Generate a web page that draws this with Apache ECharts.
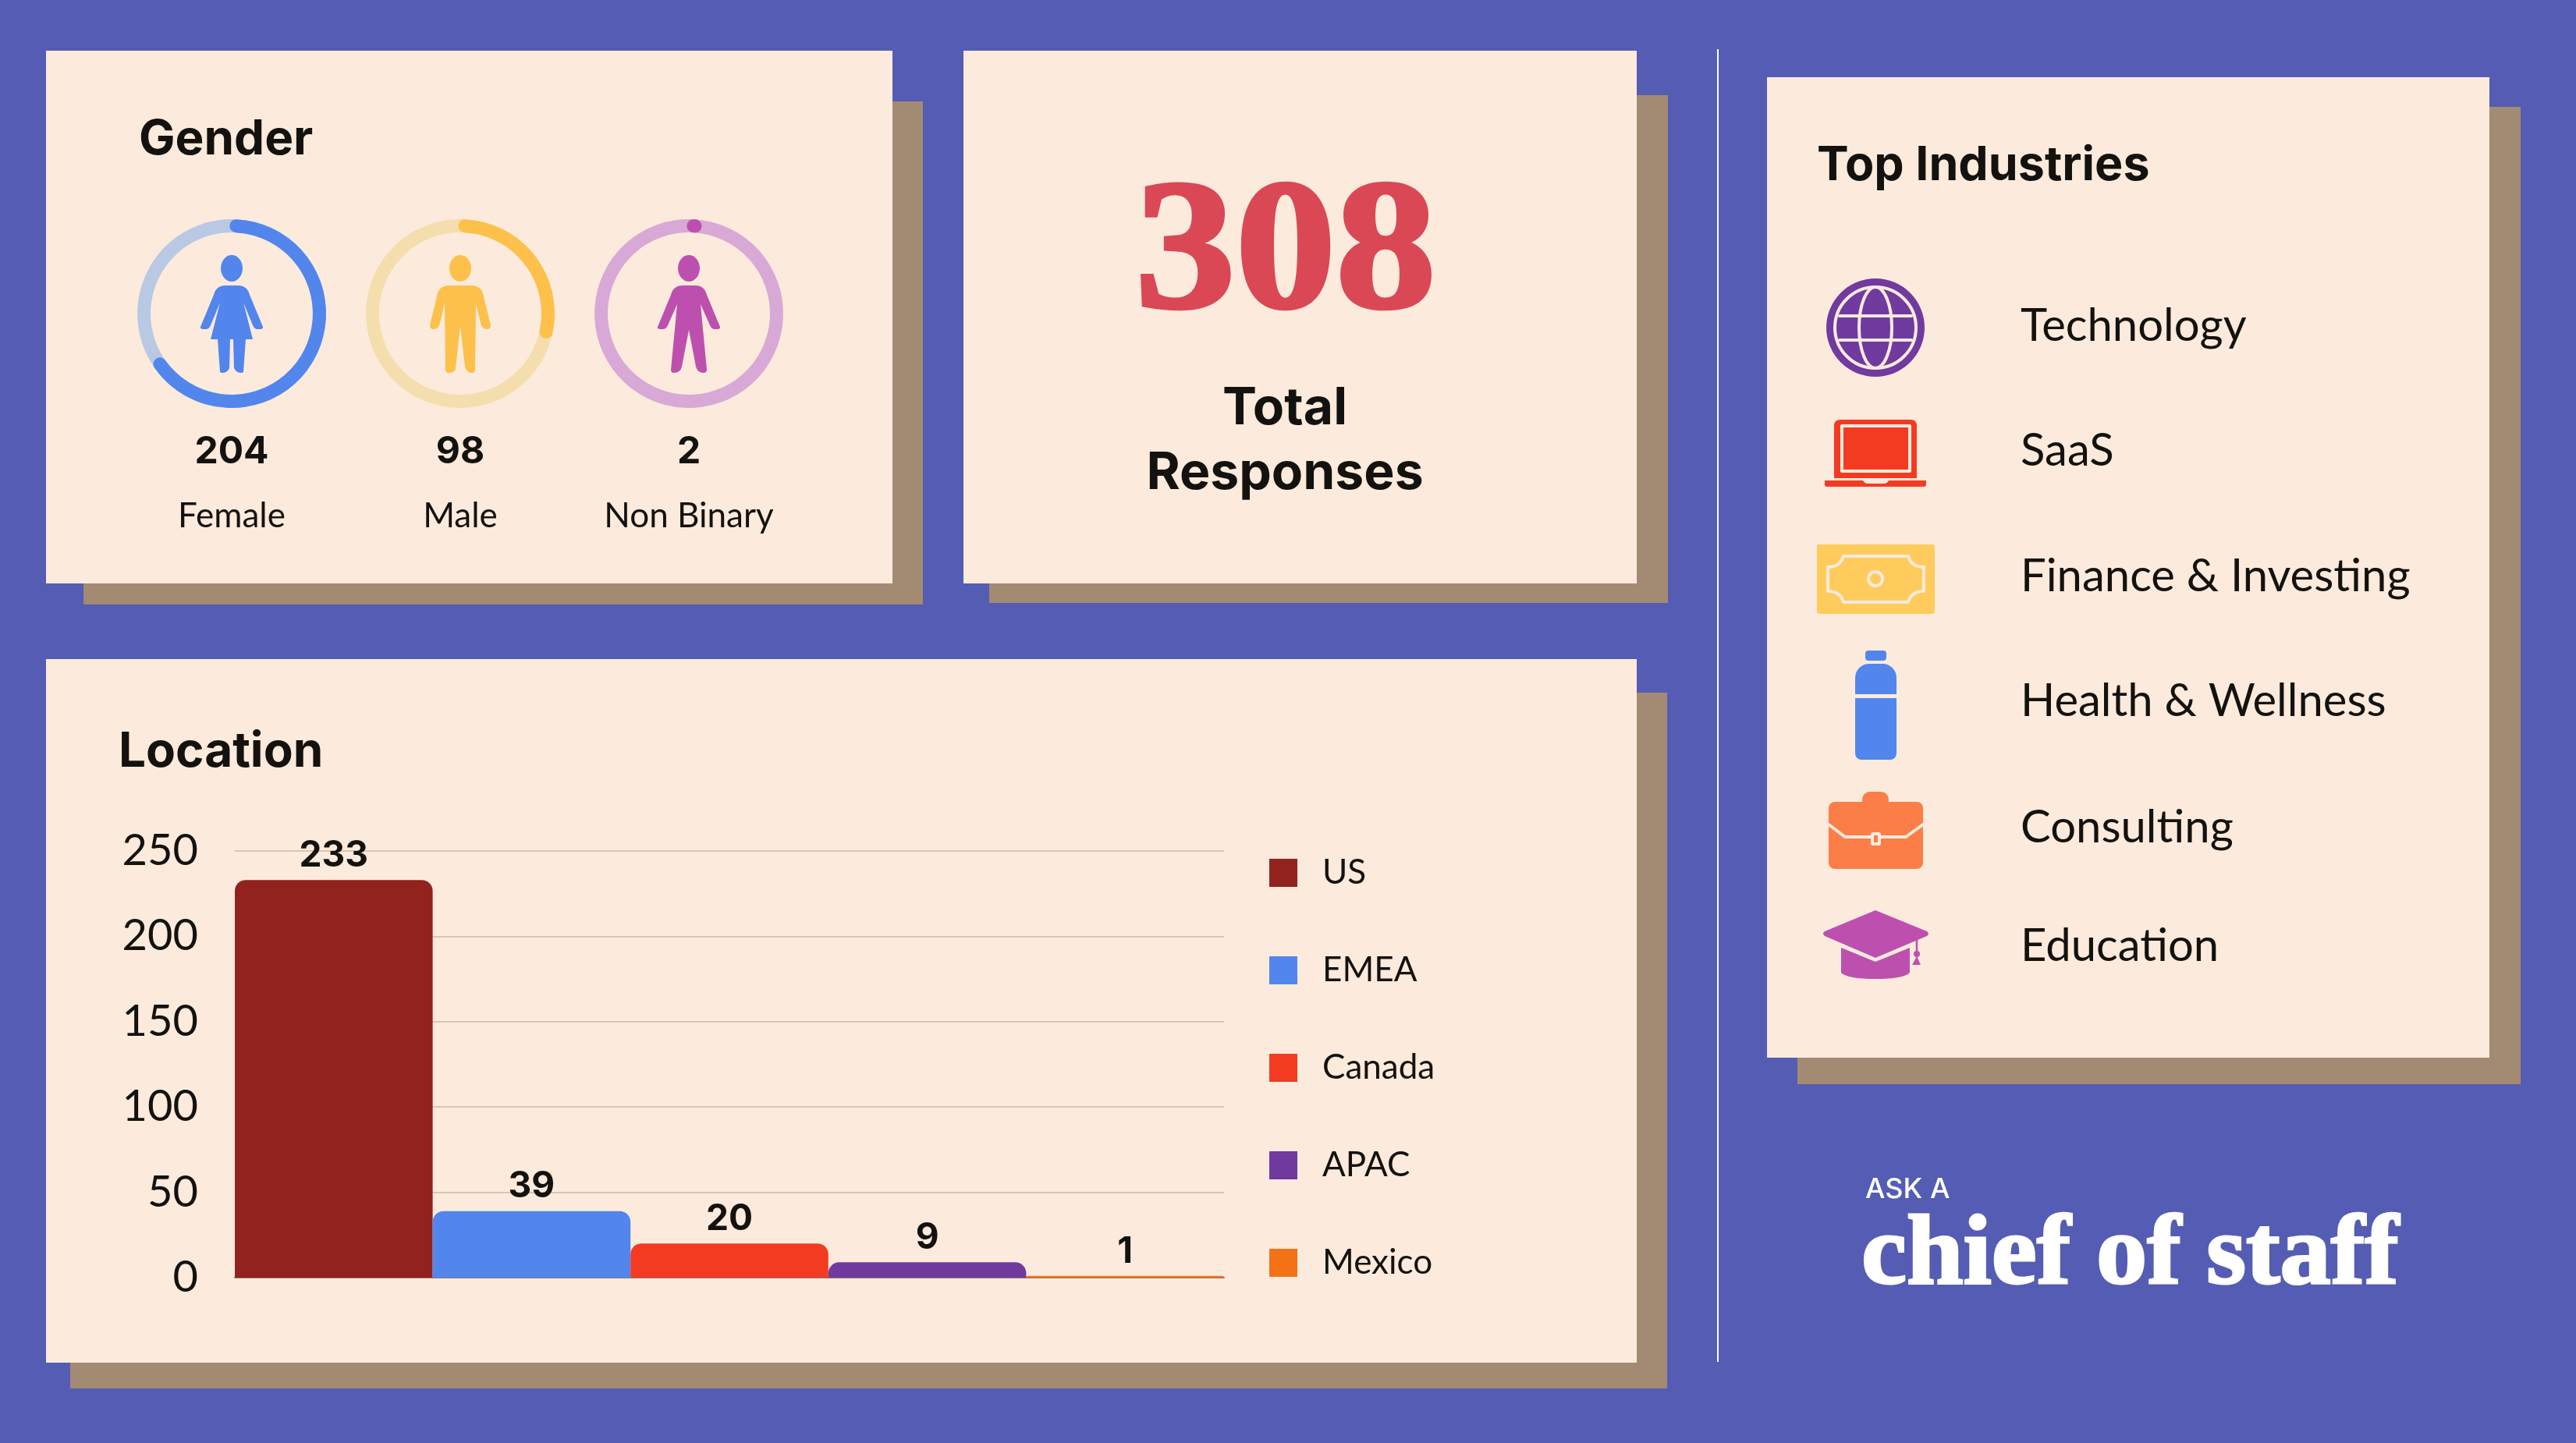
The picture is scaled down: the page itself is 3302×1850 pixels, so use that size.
<!DOCTYPE html>
<html>
<head>
<meta charset="utf-8">
<title>Survey responses</title>
<script src="https://cdn.jsdelivr.net/npm/echarts@6/dist/echarts.min.js"></script>
<style>
  html, body { margin: 0; padding: 0; background: #555cb3; }
  #main { width: 3302px; height: 1850px; }
</style>
</head>
<body>
<div id="main"></div>
<script>
// data
var locations = ['US', 'EMEA', 'Canada', 'APAC', 'Mexico'];
var locationCounts = [233, 39, 20, 9, 1];
var locationColors = ['#92221d', '#5286ed', '#f33b22', '#703a9f', '#f47216'];
var genderLabels = ['Female', 'Male', 'Non Binary'];
var genderCounts = [204, 98, 2];
var genderRingPct = [64.4, 27.5, 0.3];   // how far each ring is actually filled
var genderColors = ['#5286ed', '#fdc04a', '#bd50ae'];
var genderTracks = ['#b9c9e3', '#f4deae', '#d8a9d6'];
var industries = ['Technology', 'SaaS', 'Finance & Investing', 'Health & Wellness', 'Consulting', 'Education'];
var totalResponses = 308;

var INK = '#14120f', CREAM = '#fcebdc', SHADOW = '#a38a73';
var HEAD = 'Inter', BODY = 'Lato';
var ringX = [297, 590, 883], ringY = 402;
var industryY = [418, 578, 739, 899, 1061, 1213];

var myChart = echarts.init(document.getElementById('main'), null, { renderer: 'canvas' });

function panel(x, y, w, h, sx, sy, sw, sh) {
    return [
        { type: 'rect', z: -20, shape: { x: sx, y: sy, width: sw, height: sh }, style: { fill: SHADOW } },
        { type: 'rect', z: -10, shape: { x: x, y: y, width: w, height: h }, style: { fill: CREAM } }
    ];
}
function txt(s, x, y, size, weight, family, align, fill) {
    return {
        type: 'text', z: 5,
        style: {
            text: s, x: x, y: y, fill: fill || INK, align: align || 'left', verticalAlign: 'middle',
            font: weight + ' ' + size + 'px "' + family + '"'
        }
    };
}
// graphic has no plain path type, so each svg path is registered as its own shape
var shapeCount = 0;
function pathType(d) {
    var name = 'iconPath' + (shapeCount++);
    echarts.graphic.registerShape(name, echarts.graphic.extendPath(d));
    return name;
}
function icon(d, fill) {
    return { type: pathType(d), z: 5, style: { fill: fill } };
}
function line(d, stroke, w) {
    return { type: pathType(d), z: 6, style: { fill: 'none', stroke: stroke, lineWidth: w, lineCap: 'round', lineJoin: 'round' } };
}
function at(x, y, el) {
    el.x = x; el.y = y;
    return el;
}

var graphics = [].concat(
    panel(59, 65, 1085, 683, 107, 130, 1076, 645),
    panel(1235, 65, 863, 683, 1268, 122, 870, 651),
    panel(59, 845, 2039, 902, 90, 888, 2047, 892),
    panel(2265, 99, 926, 1257, 2304, 137, 927, 1253)
);
graphics.push({ type: 'rect', z: -5, shape: { x: 2201, y: 63, width: 2, height: 1683 }, style: { fill: '#ffffff' } });

// headings
graphics.push(txt('Gender', 178, 179, 62, 700, HEAD));
graphics.push(txt('Location', 152, 964, 62, 700, HEAD));
graphics.push(txt('Top Industries', 2329, 213, 61, 700, HEAD));
graphics.push(txt('Total', 1647, 524, 66, 700, HEAD, 'center'));
graphics.push(txt('Responses', 1647, 607, 66, 700, HEAD, 'center'));

// big number, thickened serif
var bigNum = txt(String(totalResponses), 0, 0, 238, 700, 'Liberation Serif', 'center', '#da4856');
bigNum.x = 1648; bigNum.y = 332; bigNum.scaleX = 1.08;
bigNum.style.stroke = '#da4856'; bigNum.style.lineWidth = 5;
graphics.push(bigNum);

// logo
graphics.push(txt('ASK A', 2391, 1525, 36, 500, HEAD, 'left', '#ffffff'));
var logo = txt('chief of staff', 0, 0, 128, 700, 'Liberation Serif', 'left', '#ffffff');
logo.x = 2386; logo.y = 1612; logo.scaleX = 1.02;
logo.style.stroke = '#ffffff'; logo.style.lineWidth = 3;
graphics.push(logo);

// gender figures, drawn around the ring centre
var personPaths = [
    'M-8 -36L8 -36Q20 -36 23 -24L40 17Q41 20 36 20L33 20Q29 20 27 15L15 -14L27 33L18 33L15 75Q14 76 12 76Q6 76 3 70L2 33L-2 33L-3 70Q-6 76 -12 76Q-14 76 -15 75L-18 33L-27 33L-15 -14L-27 15Q-29 20 -33 20L-36 20Q-41 20 -40 17L-23 -24Q-20 -36 -8 -36Z',
    'M-14 -36L14 -36Q28 -36 30 -22L39 15Q39 20 34 20Q28 20 26 12L20 -13L19 72Q19 76 15 76Q8 76 6 68L0 16L-6 70Q-7 76 -15 76Q-19 76 -19 72L-20 -13L-26 12Q-28 20 -34 20Q-39 20 -39 15L-30 -22Q-28 -36 -14 -36Z',
    'M-8 -36L8 -36Q20 -36 23 -24L40 17Q41 20 36 20L33 20Q29 20 27 15L15 -12L23 72Q23 76 19 76Q11 76 9 68L0 21L-9 68Q-11 76 -19 76Q-23 76 -23 72L-15 -12L-27 15Q-29 20 -33 20L-36 20Q-41 20 -40 17L-23 -24Q-20 -36 -8 -36Z'
];
genderLabels.forEach(function (name, i) {
    graphics.push(at(ringX[i], ringY, icon(personPaths[i], genderColors[i])));
    graphics.push({ type: 'ellipse', z: 5, shape: { cx: ringX[i], cy: 344, rx: 14, ry: 17 }, style: { fill: genderColors[i] } });
    graphics.push(txt(String(genderCounts[i]), ringX[i], 580, 48, 700, HEAD, 'center'));
    graphics.push(txt(name, ringX[i], 662, 44, 400, BODY, 'center'));
});

// industry names
industries.forEach(function (name, i) {
    graphics.push(txt(name, 2590, industryY[i], 58, 400, BODY));
});

// globe
graphics.push({ type: 'circle', z: 5, shape: { cx: 2404, cy: 420, r: 63 }, style: { fill: '#703a9f' } });
graphics.push({ type: 'circle', z: 6, shape: { cx: 2404, cy: 420, r: 52 }, style: { fill: 'none', stroke: CREAM, lineWidth: 4 } });
graphics.push({ type: 'ellipse', z: 6, shape: { cx: 2404, cy: 420, rx: 21, ry: 52 }, style: { fill: 'none', stroke: CREAM, lineWidth: 4 } });
graphics.push(line('M2358 405L2450 405M2358 436L2450 436', CREAM, 4));
// laptop
graphics.push(icon('M2359 538L2449 538Q2457 538 2457 546L2457 613L2351 613L2351 546Q2351 538 2359 538Z', '#f33b22'));
graphics.push(line('M2361 546L2448 546L2448 604L2361 604Z', CREAM, 4));
graphics.push(icon('M2339 616L2388 616Q2390 620 2394 620L2415 620Q2419 620 2421 616L2469 616L2469 621Q2469 624 2466 624L2342 624Q2339 624 2339 621Z', '#f33b22'));
// money
graphics.push({ type: 'rect', z: 5, shape: { x: 2329, y: 698, width: 151, height: 89, r: 3 }, style: { fill: '#ffcb5c' } });
graphics.push(line('M2363 713L2446 713Q2450 727 2466 727L2466 758Q2450 758 2446 772L2363 772Q2359 758 2343 758L2343 727Q2359 727 2363 713Z', CREAM, 4));
graphics.push({ type: 'ellipse', z: 6, shape: { cx: 2404, cy: 742, rx: 9, ry: 9 }, style: { fill: 'none', stroke: CREAM, lineWidth: 4 } });
// bottle
graphics.push({ type: 'rect', z: 5, shape: { x: 2391, y: 834, width: 27, height: 13, r: 4 }, style: { fill: '#5286ed' } });
graphics.push({ type: 'rect', z: 5, shape: { x: 2378, y: 851, width: 53, height: 123, r: [18, 18, 8, 8] }, style: { fill: '#5286ed' } });
graphics.push({ type: 'rect', z: 6, shape: { x: 2378, y: 890, width: 53, height: 5 }, style: { fill: CREAM } });
// briefcase
graphics.push({ type: 'rect', z: 5, shape: { x: 2387, y: 1015, width: 34, height: 30, r: [10, 10, 0, 0] }, style: { fill: '#fb7e48' } });
graphics.push({ type: 'rect', z: 5, shape: { x: 2344, y: 1028, width: 121, height: 86, r: 8 }, style: { fill: '#fb7e48' } });
graphics.push(line('M2344 1057L2365 1073L2443 1073L2465 1057', CREAM, 4));
graphics.push({ type: 'rect', z: 6, shape: { x: 2398, y: 1067, width: 13, height: 17, r: 3 }, style: { fill: CREAM } });
graphics.push({ type: 'rect', z: 7, shape: { x: 2402, y: 1071, width: 5, height: 9 }, style: { fill: '#fb7e48' } });
// graduation cap
graphics.push(icon('M2404 1167L2470 1194Q2474 1197 2470 1200L2404 1228L2339 1200Q2335 1197 2339 1194Z', '#bd50ae'));
graphics.push(icon('M2360 1215L2404 1233L2448 1215L2448 1247Q2440 1255 2404 1255Q2368 1255 2360 1247Z', '#bd50ae'));
graphics.push(line('M2457 1205L2457 1227', '#bd50ae', 2.5));
graphics.push({ type: 'circle', z: 6, shape: { cx: 2457, cy: 1223, r: 4 }, style: { fill: '#bd50ae' } });
graphics.push(icon('M2457 1226L2462 1237L2451 1237Z', '#bd50ae'));

// one stacked series per location so the legend gets its own entry
var barSeries = locations.map(function (name, i) {
    return {
        name: name,
        type: 'bar',
        stack: 'loc',
        barWidth: '100%',
        data: locationCounts.map(function (v, j) { return j === i ? v : '-'; }),
        itemStyle: { color: locationColors[i], borderRadius: [14, 14, 0, 0] },
        label: {
            show: true, position: 'top', distance: 8,
            color: INK, fontFamily: HEAD, fontWeight: 700, fontSize: 46
        }
    };
});

var ringSeries = genderLabels.map(function (name, i) {
    return {
        name: name,
        type: 'gauge',
        center: [ringX[i], ringY],
        radius: 121,
        startAngle: 87,
        endAngle: -273,
        min: 0,
        max: 100,
        data: [{ value: genderRingPct[i] }],
        axisLine: { roundCap: false, lineStyle: { width: 17, color: [[1, genderTracks[i]]] } },
        progress: { show: true, roundCap: true, width: 17, itemStyle: { color: genderColors[i] } },
        pointer: { show: false }, anchor: { show: false },
        axisTick: { show: false }, splitLine: { show: false }, axisLabel: { show: false },
        title: { show: false }, detail: { show: false }
    };
});

var option = {
    animation: false,
    backgroundColor: '#555cb3',
    graphic: { elements: graphics },
    grid: { left: 301, top: 1091, width: 1268, height: 547, containLabel: false },
    legend: {
        orient: 'vertical',
        left: 1622,
        top: 1092,
        icon: 'rect',
        itemWidth: 36,
        itemHeight: 36,
        itemGap: 81,
        selectedMode: false,
        data: locations,
        textStyle: { color: INK, fontFamily: BODY, fontSize: 44, padding: [0, 0, 0, 27] }
    },
    xAxis: {
        type: 'category',
        data: locations,
        axisLine: { show: true, lineStyle: { color: '#8a7d70', width: 2 } },
        axisTick: { show: false },
        axisLabel: { show: false }
    },
    yAxis: {
        type: 'value',
        min: 0,
        max: 250,
        interval: 50,
        axisLine: { show: false },
        axisTick: { show: false },
        axisLabel: { color: INK, fontFamily: BODY, fontSize: 56, margin: 47 },
        splitLine: { lineStyle: { color: '#d5c7b6', width: 2 } }
    },
    series: barSeries.concat(ringSeries)
};

myChart.setOption(option);
</script>
</body>
</html>
